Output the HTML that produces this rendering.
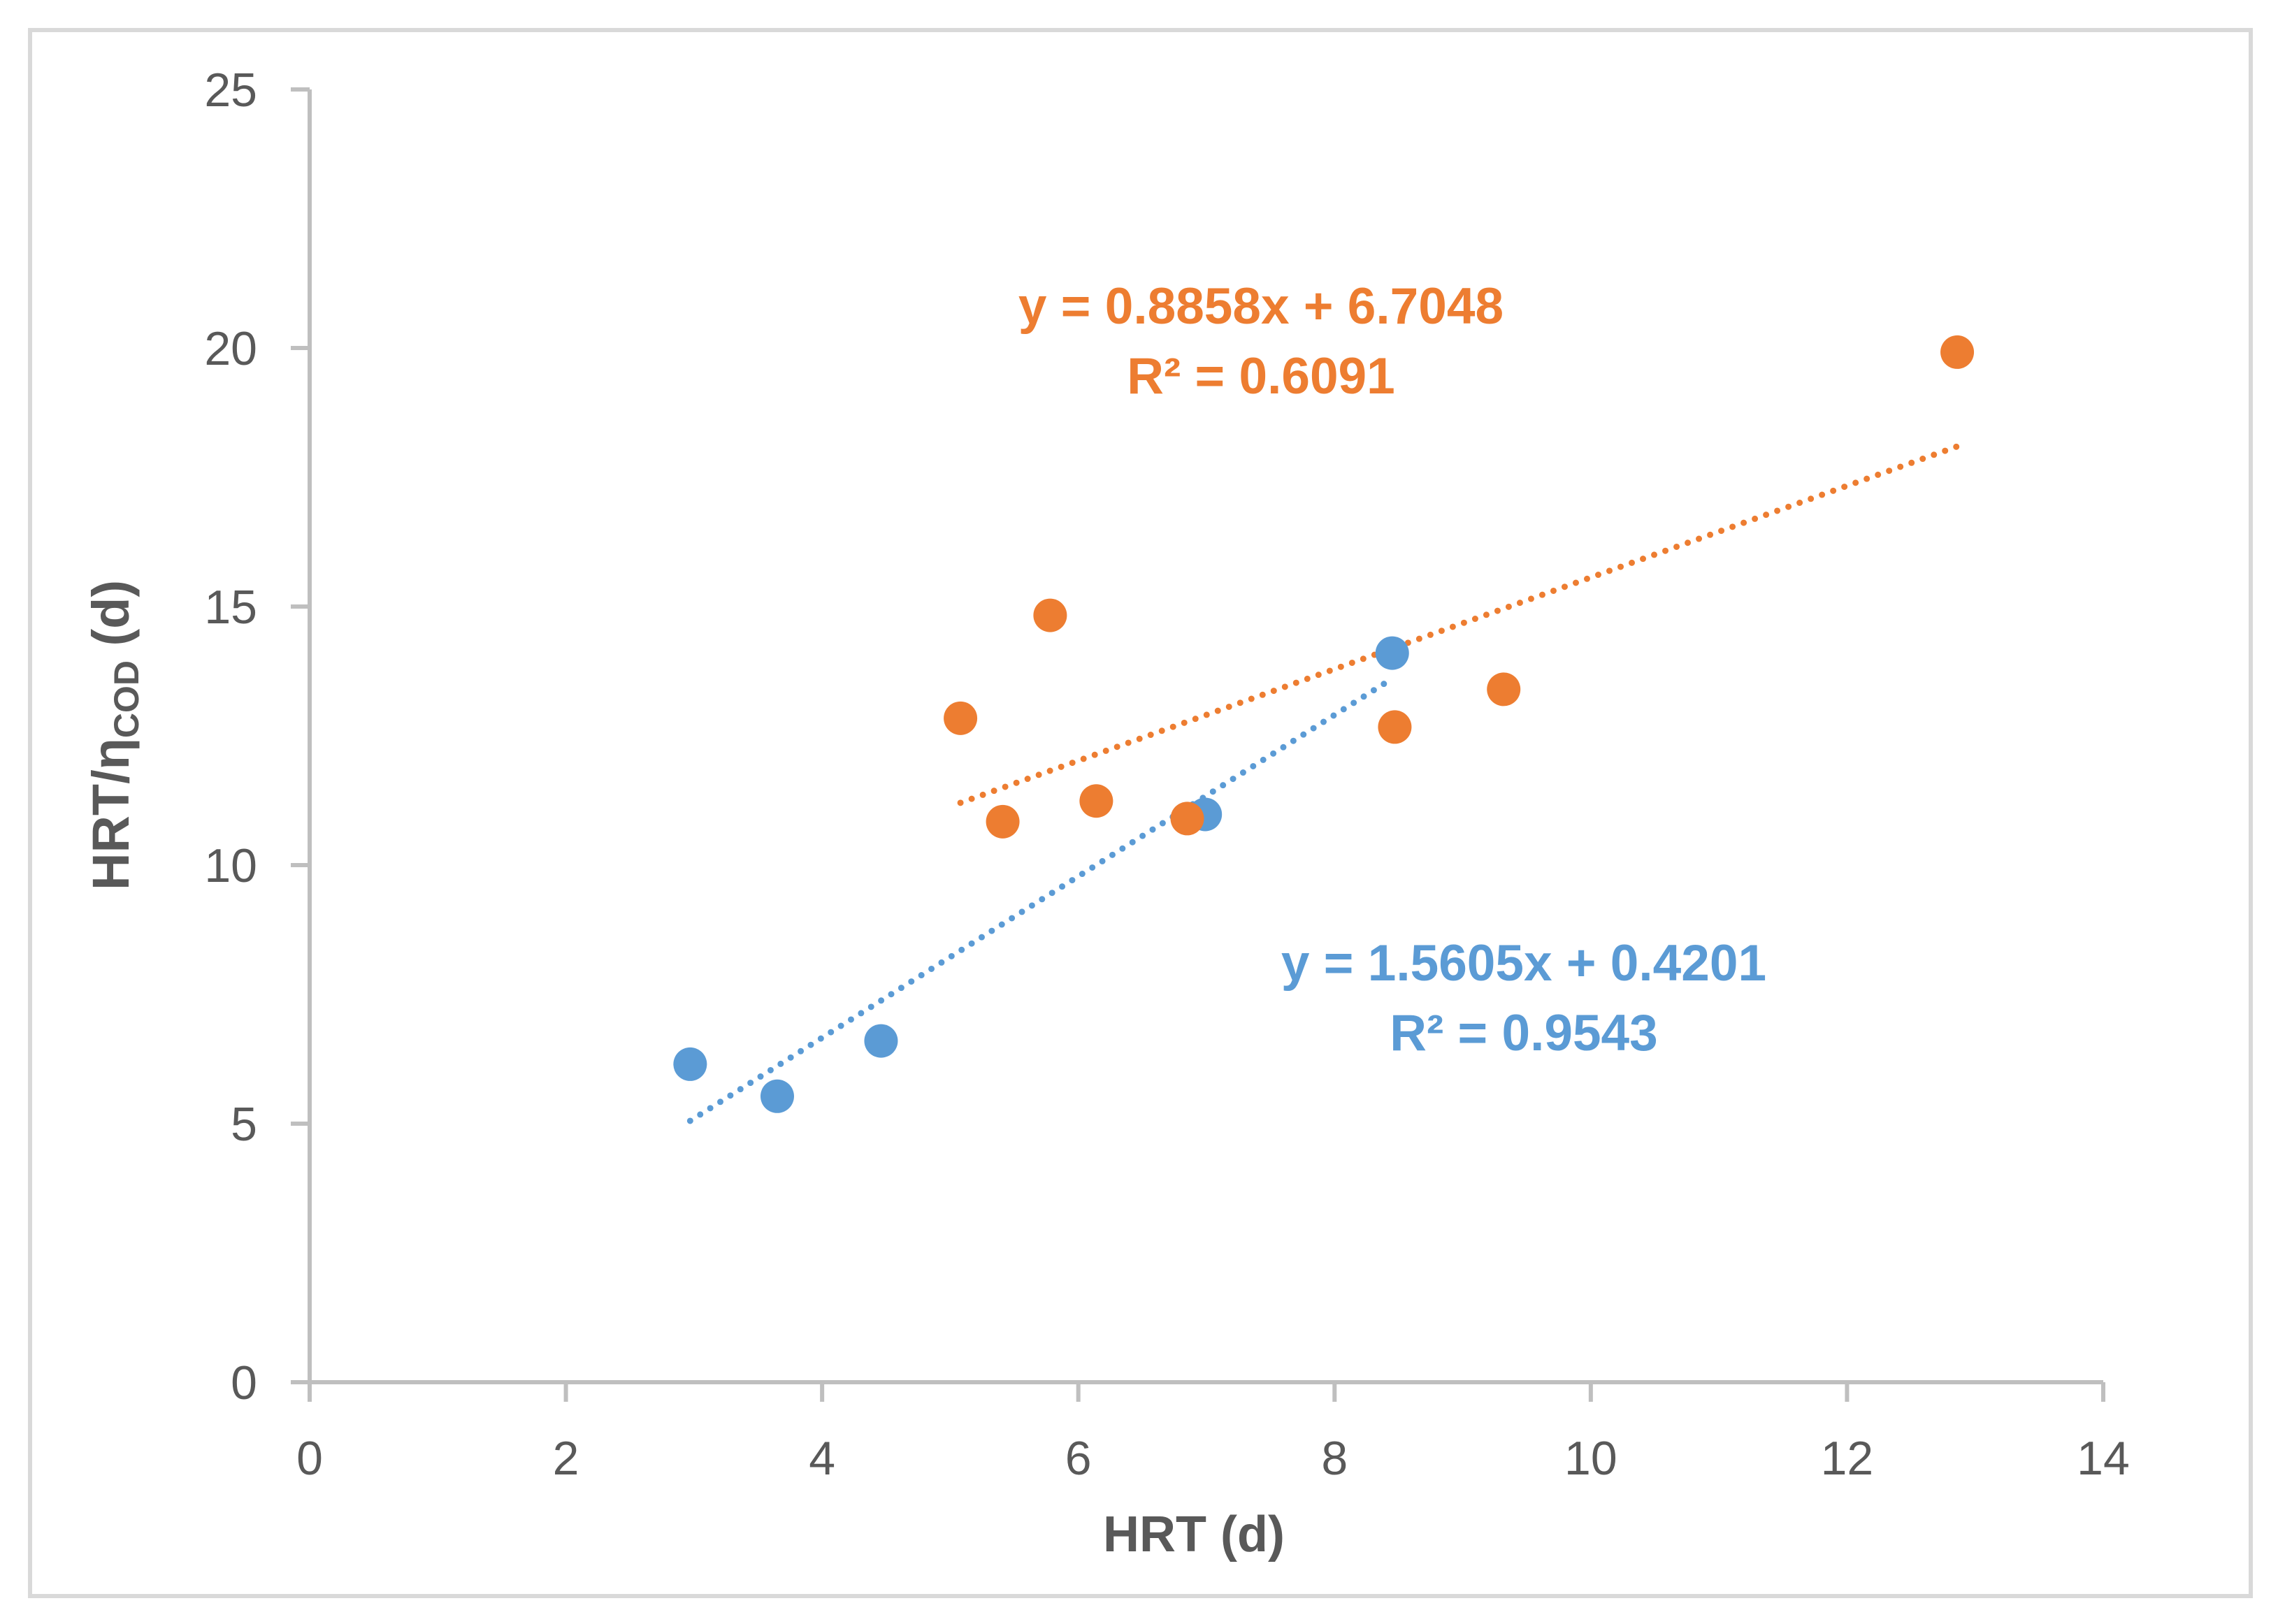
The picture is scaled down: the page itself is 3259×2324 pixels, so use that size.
<!DOCTYPE html>
<html><head><meta charset="utf-8"><style>
html,body{margin:0;padding:0;background:#fff;}
svg{display:block;font-family:"Liberation Sans",sans-serif;}
</style></head><body>
<svg id="chart" width="3259" height="2324" viewBox="0 0 3259 2324">
<rect x="43" y="43" width="3177" height="2241" fill="#fff" stroke="#d9d9d9" stroke-width="6"/>
<g id="axes"></g>
<g id="trends"></g>
<g id="points"></g>
<text x="1804" y="463" text-anchor="middle" font-size="73" font-weight="bold" fill="#ED7D31">y = 0.8858x + 6.7048</text>
<text x="1804" y="563" text-anchor="middle" font-size="73" font-weight="bold" fill="#ED7D31">R² = 0.6091</text>
<text x="2180" y="1403" text-anchor="middle" font-size="73" font-weight="bold" fill="#5B9BD5">y = 1.5605x + 0.4201</text>
<text x="2180" y="1503" text-anchor="middle" font-size="73" font-weight="bold" fill="#5B9BD5">R² = 0.9543</text>
<text x="1708" y="2220" text-anchor="middle" font-size="72" font-weight="bold" fill="#595959">HRT (d)</text>
<text transform="translate(184,1052) rotate(-90)" text-anchor="middle" font-size="74" font-weight="bold" fill="#595959">HRT/η<tspan font-size="50" dy="14">COD</tspan><tspan dy="-14"> (d)</tspan></text>
</svg>
<script>
const xTicks=[0,2,4,6,8,10,12,14];
const yTicks=[0,5,10,15,20,25];
const blueX=[2.97,3.65,4.46,6.99,8.45];
const blueY=[6.15,5.53,6.6,10.98,14.1];
const orangeX=[5.08,5.41,5.78,6.14,6.85,8.47,9.32,12.86];
const orangeY=[12.84,10.84,14.83,11.24,10.9,12.67,13.4,19.92];
const blueFit=[1.5605,0.4201];
const orangeFit=[0.8858,6.7048];
const NS="http://www.w3.org/2000/svg";
const X0=443,X1=3009,Y0=1978,Y1=128;
const sx=v=>X0+(v-0)/(14-0)*(X1-X0);
const sy=v=>Y0-(v-0)/(25-0)*(Y0-Y1);
function mk(tag,attrs,parent){const e=document.createElementNS(NS,tag);for(const k in attrs)e.setAttribute(k,attrs[k]);parent.appendChild(e);return e;}
const axes=document.getElementById('axes');
let e=mk('line',{x1:X0,y1:Y0,x2:X1,y2:Y0,stroke:'#bfbfbf','stroke-width':6},axes);


e=mk('line',{x1:X0,y1:Y0+0,x2:X0,y2:Y1,stroke:'#bfbfbf','stroke-width':6},axes);


xTicks.forEach(t=>{
 const l=mk('line',{x1:sx(t),y1:Y0,x2:sx(t),y2:Y0+28,stroke:'#bfbfbf','stroke-width':6},axes);
 
 
 const tx=mk('text',{x:sx(t),y:2110,'text-anchor':'middle','font-size':68,fill:'#595959'},axes);
 tx.textContent=t;
 
 
});
yTicks.forEach(t=>{
 const l=mk('line',{x1:X0-27,y1:sy(t),x2:X0,y2:sy(t),stroke:'#bfbfbf','stroke-width':6},axes);
 
 
 const tx=mk('text',{x:368,y:sy(t)+24,'text-anchor':'end','font-size':68,fill:'#595959'},axes);
 tx.textContent=t;
 
 
});
const trends=document.getElementById('trends');
function trend(xs,fit,col,name){
 const a=Math.min(...xs),b=Math.max(...xs);
 const l=mk('line',{x1:sx(a),y1:sy(fit[0]*a+fit[1]),x2:sx(b),y2:sy(fit[0]*b+fit[1]),stroke:col,'stroke-width':9,'stroke-dasharray':'0 17','stroke-linecap':'round'},trends);
 
 
}
trend(blueX,blueFit,'#5B9BD5','blue-trendline');
trend(orangeX,orangeFit,'#ED7D31','orange-trendline');
const pts=document.getElementById('points');
blueX.forEach((x,i)=>{
 const c=mk('circle',{cx:sx(x),cy:sy(blueY[i]),r:24,fill:'#5B9BD5'},pts);
 
 
});
orangeX.forEach((x,i)=>{
 const c=mk('circle',{cx:sx(x),cy:sy(orangeY[i]),r:24,fill:'#ED7D31'},pts);
 
 
});
</script>
</body></html>
